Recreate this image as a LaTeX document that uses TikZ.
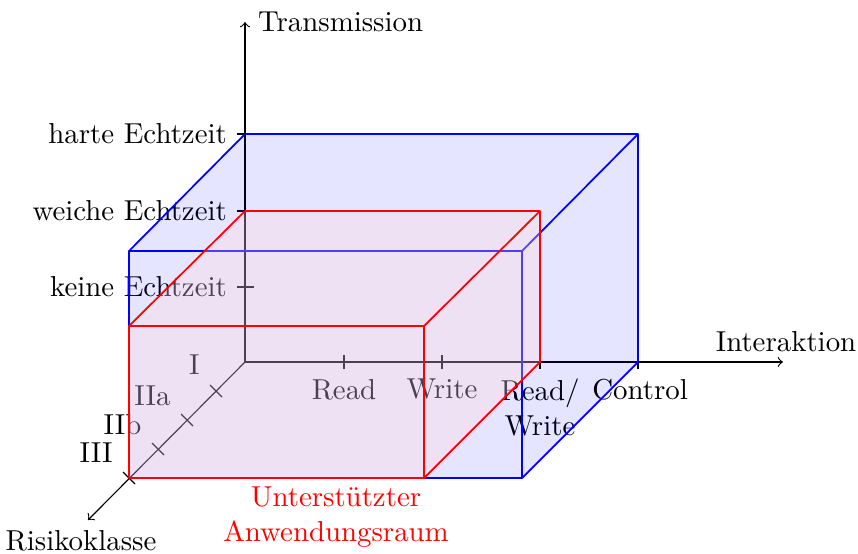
\documentclass[tikz,border=0pt]{standalone}
\begin{document}
\begin{tikzpicture}[x=0.3466pt,y=-0.3466pt,
  axis/.style={->,black},
  tickmark/.style={black},
  bluebox/.style={draw=blue,semithick,line join=round},
  redbox/.style={draw=red,semithick,line join=round},
  bluefill/.style={fill=blue,fill opacity=0.1},
  redfill/.style={fill={rgb,255:red,255;green,215;blue,215},fill opacity=0.3}]
\useasboundingbox (0,0) rectangle (858,553);
% axes
\coordinate (O) at (245,362);
\coordinate (T) at (245,22);
\coordinate (X) at (783,362);
\coordinate (R) at (88,520);
\draw[axis] (O) -- (T);
\draw[axis] (O) -- (X);
\draw[axis] (O) -- (R);
\node[anchor=west] (lT) at (248,22) {Transmission};
\node[anchor=south] (lX) at (786,362) {Interaktion};
\node[anchor=north] (lR) at (81,520) {Risikoklasse};
% vertical ticks
\foreach \y/\t/\n in {287/keine Echtzeit/v1, 211/weiche Echtzeit/v2, 134/harte Echtzeit/v3}{
  \coordinate (\n a) at (237,\y);
  \coordinate (\n b) at (254,\y);
  \draw[tickmark] (\n a) -- (\n b);
  \node[anchor=east] (\n l) at (\n a) {\t};
}
% horizontal ticks
\foreach \x/\n in {344/h1, 442/h2, 540/h3, 638/h4}{
  \coordinate (\n a) at (\x,355);
  \coordinate (\n b) at (\x,369);
  \draw[tickmark] (\n a) -- (\n b);
}
\node[anchor=north] (h1l) at (h1b) {Read};
\node[anchor=north] (h2l) at (h2b) {Write};
\node[anchor=north,align=center] (h3l) at (h3b) {Read/\\Write};
\node[anchor=north] (h4l) at (640,369) {Control};
% diagonal ticks
\foreach \x/\y/\n in {216/391/d1, 187/420/d2, 158/449/d3, 129/478/d4}{
  \coordinate (\n a) at (\x-6,\y-6);
  \coordinate (\n b) at (\x+6,\y+6);
  \draw[tickmark] (\n a) -- (\n b);
}
\node[anchor=east,inner sep=0pt] (d1l) at (200,365) {I};
\node[anchor=east,inner sep=0pt] (d2l) at (171,396) {IIa};
\node[anchor=east,inner sep=0pt] (d3l) at (142,425) {IIb};
\node[anchor=east,inner sep=0pt] (d4l) at (113,453) {III};
% blue box
\coordinate (b1) at (129,478);
\coordinate (b2) at (522,478);
\coordinate (b3) at (638,362);
\coordinate (b4) at (638,134);
\coordinate (b5) at (245,134);
\coordinate (b6) at (129,251);
\coordinate (b7) at (522,251);
\fill[bluefill] (b1) -- (b2) -- (b3) -- (b4) -- (b5) -- (b6) -- cycle;
\draw[bluebox] (b1) -- (b2) -- (b3) -- (b4) -- (b5) -- (b6) -- cycle;
\draw[bluebox] (b6) -- (b7) -- (b2);
\draw[bluebox] (b7) -- (b4);
% red box
\coordinate (r1) at (129,478);
\coordinate (r2) at (424,478);
\coordinate (r3) at (540,362);
\coordinate (r4) at (540,211);
\coordinate (r5) at (245,211);
\coordinate (r6) at (129,326);
\coordinate (r7) at (424,326);
\fill[redfill] (r1) -- (r2) -- (r3) -- (r4) -- (r5) -- (r6) -- cycle;
\draw[redbox] (r1) -- (r2) -- (r3) -- (r4) -- (r5) -- (r6) -- cycle;
\draw[redbox] (r6) -- (r7) -- (r2);
\draw[redbox] (r7) -- (r4);
\node[text=red,align=center] (cap) at (336,517) {Unterstützter\\Anwendungsraum};
\end{tikzpicture}
\end{document}
